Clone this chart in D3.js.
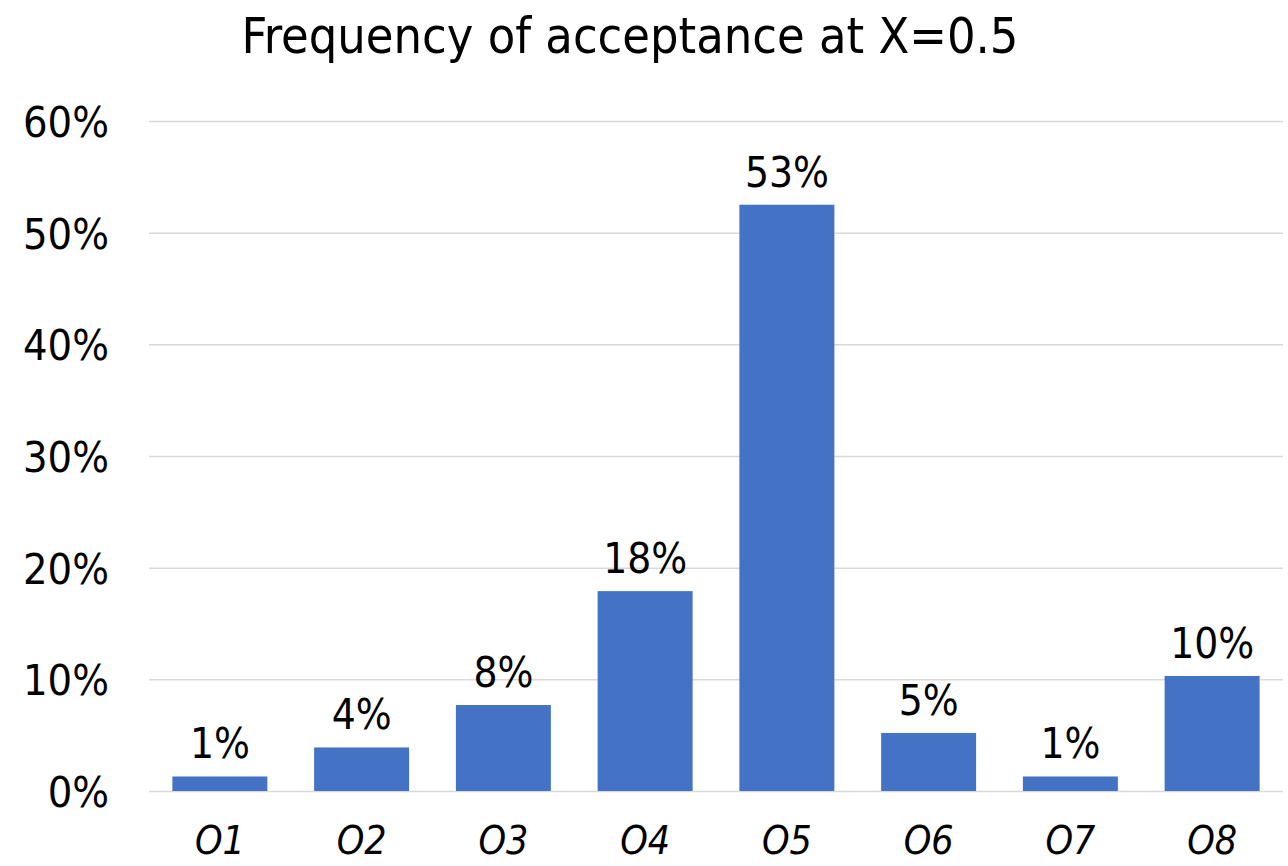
<!DOCTYPE html>
<html>
<head>
<meta charset="utf-8">
<script src="https://cdn.jsdelivr.net/npm/d3@7"></script>
<style>
  html, body { margin: 0; padding: 0; background: #ffffff; }
  svg { display: block; }
  text { font-family: "DejaVu Sans Condensed", "DejaVu Sans", sans-serif; font-stretch: condensed; fill: #000; }
</style>
</head>
<body>
<svg id="chart" width="1288" height="866"></svg>
<script>
// Share of acceptances per option at X = 0.5
const categories = ["O1", "O2", "O3", "O4", "O5", "O6", "O7", "O8"];
const shares = [0.013, 0.039, 0.077, 0.179, 0.525, 0.052, 0.013, 0.103];
const yTicks = [0, 0.1, 0.2, 0.3, 0.4, 0.5, 0.6];
const chartTitle = "Frequency of acceptance at X=0.5";

const W = 1288, H = 866;
const margin = { top: 121, right: 5, bottom: 75, left: 149 };

const svg = d3.select("#chart");

const x = d3.scaleBand()
  .domain(categories)
  .range([margin.left, W - margin.right])
  .paddingInner(0.33)
  .paddingOuter(0.165);

const y = d3.scaleLinear()
  .domain([0, 0.6])
  .range([H - margin.bottom, margin.top]);

const pct = d3.format(".0%");

// Horizontal gridlines and left tick labels
const yAxis = d3.axisLeft(y)
  .tickValues(yTicks)
  .tickFormat(pct)
  .tickSize(-(W - margin.right - margin.left))
  .tickPadding(40);

const gy = svg.append("g")
  .attr("transform", `translate(${margin.left},0)`)
  .call(yAxis);
gy.select(".domain").remove();
gy.selectAll(".tick line").attr("stroke", "#d9d9d9").attr("stroke-width", 1.5);
gy.selectAll(".tick text")
  .attr("font-size", 43)
  .attr("dy", "0.36em")
  .style("font-family", "'DejaVu Sans Condensed', 'DejaVu Sans', sans-serif");

// Bars
svg.append("g")
  .selectAll("rect")
  .data(categories.map((c, i) => ({ c, v: shares[i] })))
  .join("rect")
  .attr("x", d => x(d.c))
  .attr("y", d => y(d.v))
  .attr("width", x.bandwidth())
  .attr("height", d => y(0) - y(d.v))
  .attr("fill", "#4472C4");

// Value labels above bars
svg.append("g")
  .selectAll("text")
  .data(categories.map((c, i) => ({ c, v: shares[i] })))
  .join("text")
  .attr("x", d => x(d.c) + x.bandwidth() / 2)
  .attr("y", d => y(d.v) - 18)
  .attr("text-anchor", "middle")
  .attr("font-size", 42)
  .text(d => pct(d.v));

// Category axis labels (italic)
const xAxis = d3.axisBottom(x).tickSize(0).tickPadding(35);
const gx = svg.append("g")
  .attr("transform", `translate(0,${H - margin.bottom})`)
  .call(xAxis);
gx.select(".domain").remove();
gx.selectAll(".tick text")
  .attr("font-size", 39)
  .attr("font-style", "italic")
  .style("font-family", "'DejaVu Sans Condensed', 'DejaVu Sans', sans-serif");

// Title
svg.append("text")
  .attr("x", 630)
  .attr("y", 53)
  .attr("text-anchor", "middle")
  .attr("font-size", 50)
  .text(chartTitle);
</script>
</body>
</html>
